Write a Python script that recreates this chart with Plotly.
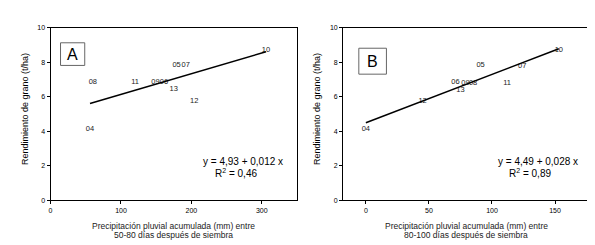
import plotly.graph_objects as go

# Panel A data
a_labels = ["04", "05", "06", "07", "08", "09", "10", "11", "12", "13"]
a_x = [56, 179, 161, 192, 60, 149, 306, 120, 204, 175]
a_y = [4.12, 7.83, 6.82, 7.83, 6.84, 6.82, 8.69, 6.84, 5.73, 6.44]
a_coef = [4.93, 0.012]
a_r2 = "0,46"

# Panel B data
b_labels = ["04", "05", "06", "07", "08", "09", "10", "11", "12", "13"]
b_x = [0, 91, 71, 124, 85, 79, 153, 112, 45, 75]
b_y = [4.1, 7.83, 6.87, 7.75, 6.81, 6.81, 8.71, 6.81, 5.75, 6.4]
b_coef = [4.49, 0.028]
b_r2 = "0,89"

y_ticks = [0, 2, 4, 6, 8, 10]
a_xticks = [0, 100, 200, 300]
b_xticks = [0, 50, 100, 150]

W, H = 595, 245
FONT = "Arial, Liberation Sans"
fig = go.Figure()

def add_panel(xs, ys, labels, coef, xa, ya):
    fig.add_trace(go.Scatter(x=xs, y=ys, text=labels, mode="text",
                             textfont=dict(family=FONT, size=7.5, color="#222"),
                             xaxis=xa, yaxis=ya, showlegend=False, hoverinfo="skip"))
    x0, x1 = min(xs), max(xs)
    fig.add_trace(go.Scatter(x=[x0, x1], y=[coef[0] + coef[1] * x0, coef[0] + coef[1] * x1],
                             mode="lines", line=dict(color="black", width=1.5),
                             xaxis=xa, yaxis=ya, showlegend=False, hoverinfo="skip"))

add_panel(a_x, a_y, a_labels, a_coef, "x", "y")
add_panel(b_x, b_y, b_labels, b_coef, "x2", "y2")

ydom = [1 - 194 / H, 1 - 16 / H]
axis_common = dict(showline=True, linecolor="black", linewidth=1, mirror=True,
                   ticks="outside", ticklen=3, tickcolor="black", showgrid=False, zeroline=False,
                   tickfont=dict(family=FONT, size=7, color="black"))
title_font = dict(family=FONT, size=9, color="black")

fig.update_layout(
    width=W, height=H, margin=dict(l=0, r=0, t=0, b=0),
    plot_bgcolor="white", paper_bgcolor="white",
    xaxis=dict(domain=[40.7 / W, 288 / W], range=[0, 350], tickvals=a_xticks, anchor="y", **axis_common),
    yaxis=dict(domain=ydom, range=[0, 10], tickvals=y_ticks, anchor="x", **axis_common),
    xaxis2=dict(domain=[334.3 / W, 582.3 / W], range=[-18, 178], tickvals=b_xticks, anchor="y2", **axis_common),
    yaxis2=dict(domain=ydom, range=[0, 10], tickvals=y_ticks, anchor="x2", **axis_common),
)

annots = []
shapes = []
def panel_text(cx_title, letter, box, eq_c, r2_c, coef, r2, sub):
    annots.append(dict(x=cx_title[0] / W, y=1 - 100 / H, xref="paper", yref="paper",
                       text="Rendimiento de grano (t/ha)", textangle=-90, showarrow=False,
                       font=title_font, xanchor="center", yanchor="middle"))
    xt_font = dict(family=FONT, size=8.5, color="#222")
    annots.append(dict(x=cx_title[1] / W, y=1 - 220 / H, xref="paper", yref="paper",
                       text="Precipitación pluvial acumulada (mm) entre",
                       showarrow=False, font=xt_font, xanchor="center", yanchor="middle"))
    annots.append(dict(x=cx_title[1] / W, y=1 - 229.5 / H, xref="paper", yref="paper",
                       text=sub, showarrow=False, font=xt_font, xanchor="center", yanchor="middle"))
    shapes.append(dict(type="rect", xref="paper", yref="paper",
                       x0=box[0] / W, x1=box[1] / W, y0=1 - box[3] / H, y1=1 - box[2] / H,
                       line=dict(color="#666", width=1), fillcolor="white"))
    annots.append(dict(x=(box[0] + box[1]) / 2 / W, y=1 - (box[2] + box[3]) / 2 / H,
                       xref="paper", yref="paper", text=letter, showarrow=False,
                       font=dict(family=FONT, size=16, color="black"),
                       xanchor="center", yanchor="middle"))
    annots.append(dict(x=eq_c[0] / W, y=1 - eq_c[1] / H, xref="paper", yref="paper",
                       text="y = %s + %s x" % (str(coef[0]).replace(".", ","), str(coef[1]).replace(".", ",")),
                       showarrow=False, font=dict(family=FONT, size=10, color="black"),
                       xanchor="center", yanchor="middle"))
    annots.append(dict(x=r2_c[0] / W, y=1 - r2_c[1] / H, xref="paper", yref="paper",
                       text="R<sup>2</sup> = " + r2,
                       showarrow=False, font=dict(family=FONT, size=10, color="black"),
                       xanchor="center", yanchor="middle"))

panel_text((15, 164), "A", (50.7, 75, 31.7, 55), (233.3, 154.3), (226.7, 165.5), a_coef, a_r2,
           "50-80 días después de siembra")
panel_text((308, 458), "B", (350, 377.7, 37.3, 64), (530, 154.3), (521.7, 165.5), b_coef, b_r2,
           "80-100 días después de siembra")

fig.update_layout(annotations=annots, shapes=shapes)
fig.write_html("out.html")
